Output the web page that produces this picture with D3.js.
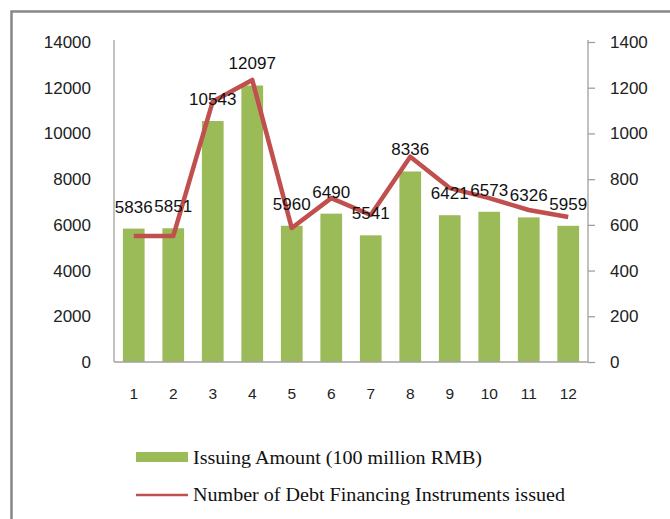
<!DOCTYPE html>
<html><head><meta charset="utf-8">
<script src="https://cdn.jsdelivr.net/npm/d3@7"></script>
<style>html,body{margin:0;padding:0;background:#fff;overflow:hidden}</style>
</head><body>
<svg id="c" width="670" height="519"></svg>
<script>
const months = ["1","2","3","4","5","6","7","8","9","10","11","12"];
const issuingAmount = [5836,5851,10543,12097,5960,6490,5541,8336,6421,6573,6326,5959];
const instrumentsIssued = [551,551,1140,1234,586,717,643,898,761,717,665,634];
const leftTicks = [0,2000,4000,6000,8000,10000,12000,14000];
const rightTicks = [0,200,400,600,800,1000,1200,1400];
const seriesNames = ["Issuing Amount (100 million RMB)","Number of Debt Financing Instruments issued"];

const svg = d3.select("#c");
// outer frame
svg.append("rect").attr("x",11.5).attr("y",11.5).attr("width",700).attr("height",600)
  .attr("fill","#fff").attr("stroke","#878787").attr("stroke-width",2.5);

const L=114, R=588, T=42, B=362;
const x = d3.scaleBand().domain(months).range([L,R]).paddingInner(0.45).paddingOuter(0.225);
const xc = d3.scaleBand().domain(months).range([L,R]);
const yL = d3.scaleLinear().domain([0,14000]).range([B,T]);
const yR = d3.scaleLinear().domain([0,1400]).range([B,T]);

// bars
svg.append("g").selectAll("rect").data(issuingAmount).join("rect")
  .attr("x",(d,i)=>x(months[i])).attr("width",x.bandwidth())
  .attr("y",d=>yL(d)).attr("height",d=>B-yL(d))
  .attr("fill","#9bbb59");

// axes
const fmt = d3.format("d");
const axL = svg.append("g").attr("transform",`translate(${L},0)`)
  .call(d3.axisLeft(yL).tickValues(leftTicks).tickFormat(fmt).tickSize(0).tickPadding(23));
const axR = svg.append("g").attr("transform",`translate(${R},0)`)
  .call(d3.axisRight(yR).tickValues(rightTicks).tickFormat(fmt).tickSize(7).tickPadding(15));
const axB = svg.append("g").attr("transform",`translate(0,${B})`)
  .call(d3.axisBottom(xc).tickSize(0).tickPadding(26));
[axL,axR,axB].forEach(a=>{
  a.select(".domain").attr("stroke","#a0a0a0").attr("stroke-width",1.3);
  a.selectAll(".tick line").attr("stroke","#a0a0a0").attr("stroke-width",1.3);
  a.selectAll("text").attr("font-family","Liberation Sans, Arial, sans-serif")
   .attr("font-size",17).attr("fill","#222");
});
axB.selectAll("text").attr("font-size",15.5);
axL.select(".domain").attr("d",`M0,${B}V40`);
axR.select(".domain").attr("d",`M0,${B}V40`);
axB.select(".domain").attr("d",`M${L},0H${R}`);

// line
const line = d3.line().x((d,i)=>xc(months[i])+xc.bandwidth()/2).y(d=>yR(d));
svg.append("path").datum(instrumentsIssued).attr("d",line)
  .attr("fill","none").attr("stroke","#c0504d").attr("stroke-width",4.5)
  .attr("stroke-linejoin","round");

// data labels
svg.append("g").selectAll("text").data(issuingAmount).join("text")
  .attr("x",(d,i)=>xc(months[i])+xc.bandwidth()/2)
  .attr("y",d=>yL(d)-16)
  .attr("text-anchor","middle")
  .attr("font-family","Liberation Sans, Arial, sans-serif").attr("font-size",17)
  .attr("fill","#111").text(d=>d);

// legend
const lg = svg.append("g").attr("font-family","Liberation Serif, Times New Roman, serif")
  .attr("font-size",19).attr("fill","#111");
lg.append("rect").attr("x",136).attr("y",452).attr("width",52).attr("height",10).attr("fill","#9bbb59");
lg.append("text").attr("x",193).attr("y",464).attr("textLength",289).attr("lengthAdjust","spacingAndGlyphs").text(seriesNames[0]);
lg.append("line").attr("x1",136).attr("x2",188).attr("y1",495).attr("y2",495)
  .attr("stroke","#c0504d").attr("stroke-width",2.5);
lg.append("text").attr("x",193).attr("y",501).attr("textLength",372).attr("lengthAdjust","spacingAndGlyphs").text(seriesNames[1]);
</script>
</body></html>
